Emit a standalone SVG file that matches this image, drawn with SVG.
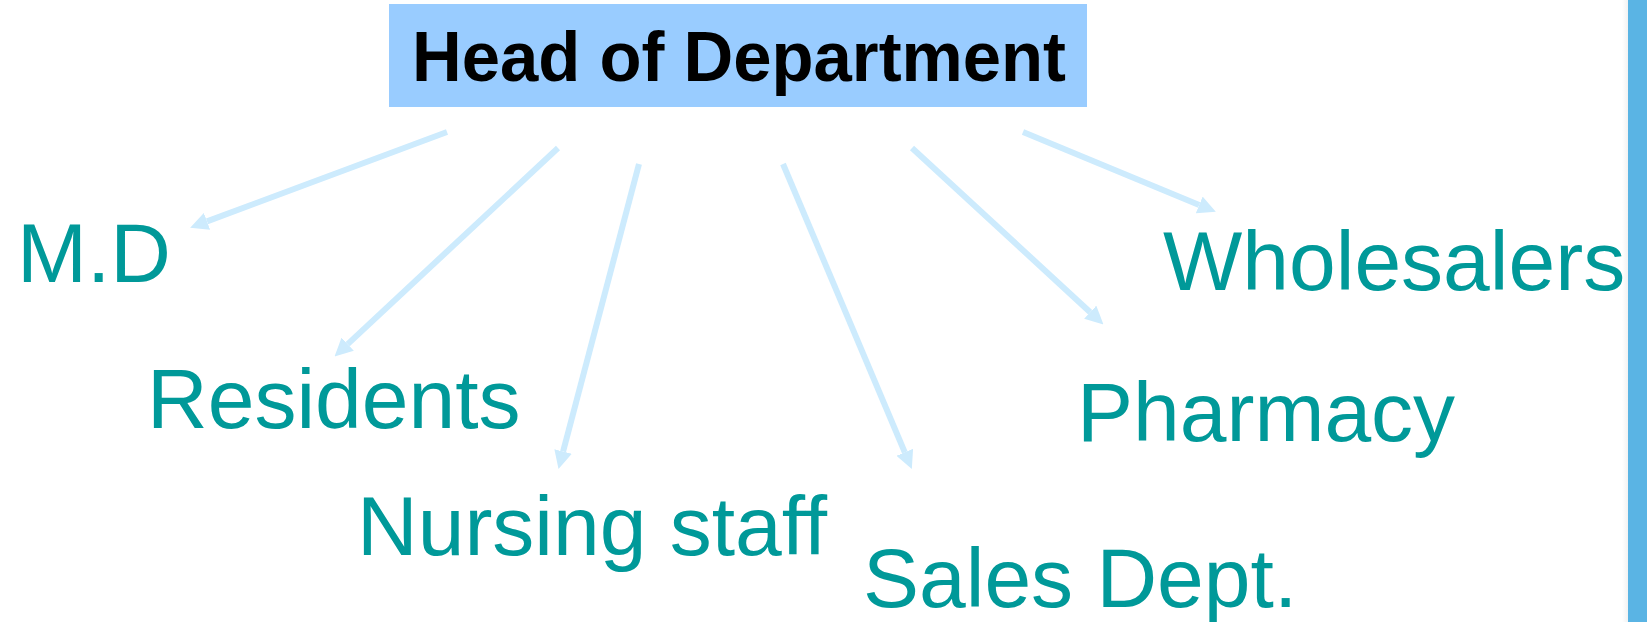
<svg xmlns="http://www.w3.org/2000/svg" width="1647" height="622" viewBox="0 0 1647 622">
  <style>
    .label { font-family: "Liberation Sans", Arial, sans-serif; font-size: 84px; fill: #009999; }
    .head { font-family: "Liberation Sans", Arial, sans-serif; font-size: 71px; font-weight: bold; fill: #000000; }
    .link { stroke: #CDEBFD; stroke-width: 6; fill: none; marker-end: url(#arrow); }
  </style>
  <defs>
    <marker id="arrow" markerUnits="userSpaceOnUse" markerWidth="18" markerHeight="18" refX="0" refY="8" orient="auto" viewBox="0 0 16 16">
      <path d="M0,0 L16,8 L0,16 Z" fill="#CDEBFD"/>
    </marker>
    <linearGradient id="strip" x1="0" y1="0" x2="1" y2="0">
      <stop offset="0" stop-color="#F2F2F2"/>
      <stop offset="1" stop-color="#FFFFFF"/>
    </linearGradient>
  </defs>

  <rect x="0" y="0" width="1647" height="622" fill="#FFFFFF"/>
  <!-- side strip with a faint shade on its left -->
  <rect x="1622" y="0" width="6" height="622" fill="url(#strip)" transform="rotate(180 1625 311)"/>
  <rect x="1628" y="0" width="19" height="622" fill="#5AB4E4"/>

  <g id="head">
    <rect x="389" y="4" width="698" height="103" fill="#99CCFF"/>
    <text class="head" x="412" y="81" textLength="654" lengthAdjust="spacingAndGlyphs">Head of Department</text>
  </g>

  <g id="connectors">
    <path class="link" d="M447,132 L207,221.4"/>
    <path class="link" d="M558,148 L347.7,344.1"/>
    <path class="link" d="M639,164 L563.1,451.5"/>
    <path class="link" d="M783,164 L904.8,452.3"/>
    <path class="link" d="M912,148 L1090.2,312.2"/>
    <path class="link" d="M1023,132 L1199.2,204.9"/>
  </g>

  <g id="md"><text class="label" x="17" y="282">M.D</text></g>
  <g id="residents"><text class="label" x="147" y="428">Residents</text></g>
  <g id="nursing"><text class="label" x="357" y="555">Nursing staff</text></g>
  <g id="sales"><text class="label" x="863" y="607">Sales Dept.</text></g>
  <g id="pharmacy"><text class="label" x="1077" y="441">Pharmacy</text></g>
  <g id="wholesalers"><text class="label" x="1163" y="290">Wholesalers</text></g>
</svg>
